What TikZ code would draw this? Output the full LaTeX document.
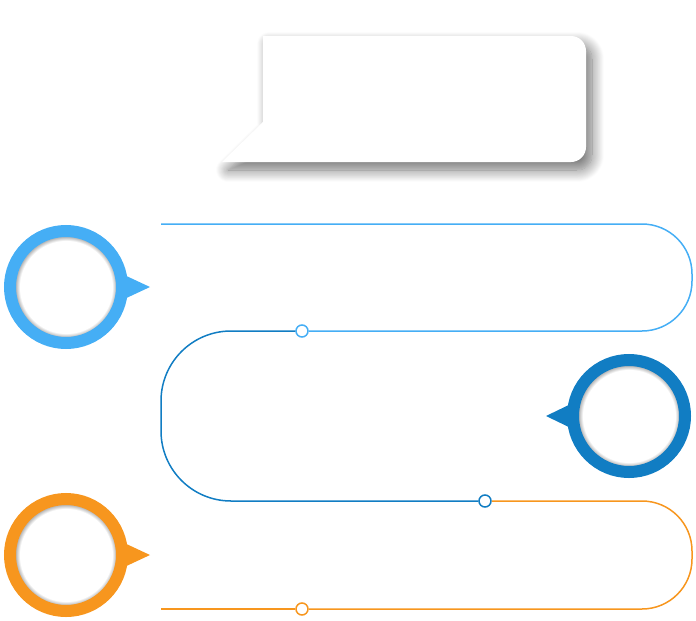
\documentclass[tikz,border=0pt]{standalone}
\usetikzlibrary{positioning, shadows.blur}
\definecolor{lightblue}{HTML}{45AEF5}
\definecolor{darkblue}{HTML}{117DC3}
\definecolor{orangeish}{HTML}{F7961E}
\pgfdeclareradialshading{ringshade}{\pgfpoint{0bp}{0bp}}{color(0bp)=(white); color(20.6bp)=(white); color(22.4bp)=(black!28); color(25bp)=(black!28); color(50bp)=(black!28)}
\tikzset{
  ring/.style={circle, minimum size=112pt, inner sep=0pt, outer sep=0pt, line width=12pt, shading=ringshade, draw=#1},
  knot/.style={circle, minimum size=12pt, inner sep=0pt, draw=#1, fill=white, line width=1.5pt},
  track/.style={line width=1.5pt, draw=#1},
  bubble/.style={fill=white, blur shadow={shadow xshift=6pt, shadow yshift=-8pt, shadow blur radius=12pt, shadow blur steps=14, shadow opacity=55}}
}

\begin{document}
\begin{tikzpicture}[x=1pt,y=-1pt]
\useasboundingbox (0,0) rectangle (696,621);

% speech bubble with soft shadow
\path[bubble] (400,162) -- (222,162) -- (263,122) -- (263,36) [rounded corners=15pt] -- (586,36) -- (586,162) -- cycle;

% rings
\node (ring1) [ring=lightblue] at (66,287) {};
\node (ring2) [ring=darkblue] at (629,416) {};
\node (ring3) [ring=orangeish, below=268pt of ring1.center, anchor=center] {};
\fill[lightblue] (ring1.center) ++(54,-14) -- ++(30,14) -- ++(-30,14) -- cycle;
\fill[darkblue] (ring2.center) ++(-54,-14) -- ++(-29,14) -- ++(29,14) -- cycle;
\fill[orangeish] (ring3.center) ++(54,-14) -- ++(30,14) -- ++(-30,14) -- cycle;

% small joints
\coordinate (bstart) at (161,224);
\coordinate (oend) at (161,609);
\node (knot1) [knot=lightblue] at (302,331) {};
\node (knot2) [knot=darkblue] at (485,501) {};
\node (knot3) [knot=orangeish] at (302,609) {};

% tracks
\draw[track=lightblue, rounded corners=50pt] (bstart) -- (692,224) -- (692,331) -- (knot1);
\draw[track=darkblue, rounded corners=70pt] (knot1) -- (161,331) -- (161,501) -- (knot2);
\draw[track=orangeish, rounded corners=50pt] (knot2) -- (692,501) -- (692,609) -- (knot3);
\draw[track=orangeish] (knot3) -- (oend);

\end{tikzpicture}
\end{document}
